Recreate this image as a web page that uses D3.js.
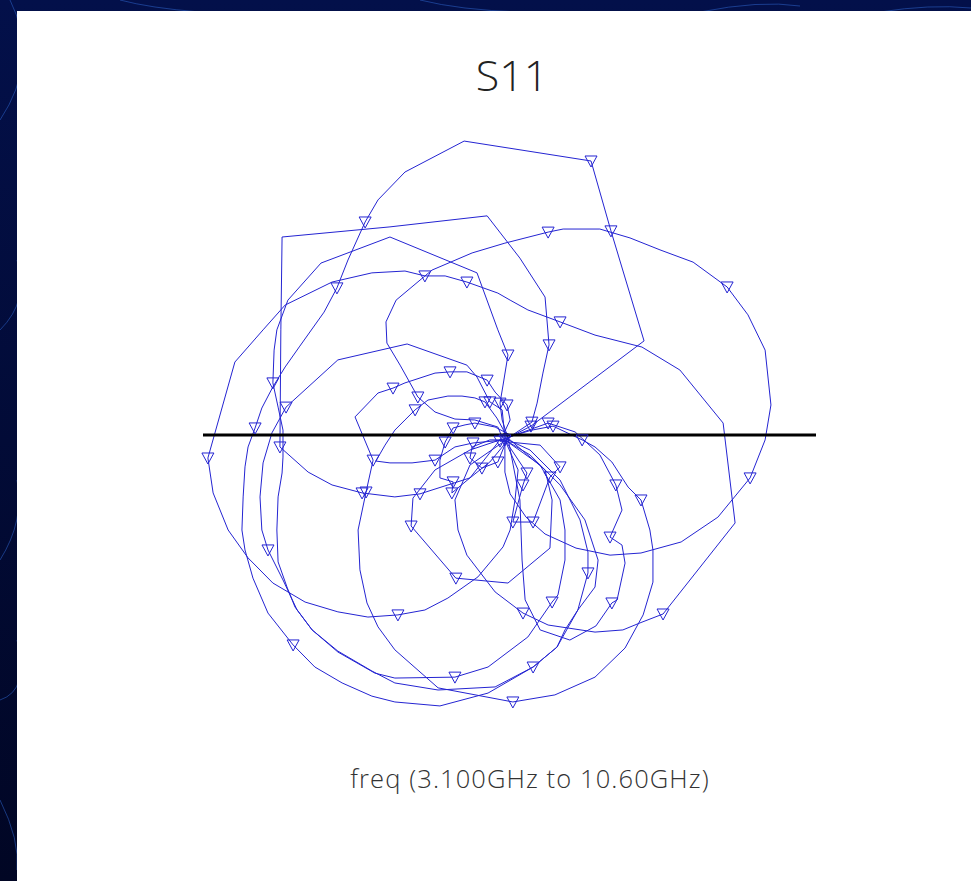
<!DOCTYPE html>
<html>
<head>
<meta charset="utf-8">
<script src="https://cdn.jsdelivr.net/npm/d3@7"></script>
<style>
html, body { margin: 0; padding: 0; background: #020a38; }
svg { display: block; }
</style>
</head>
<body>
<svg id="chart" width="971" height="881"></svg>
<script>
// S11 reflection coefficient, real and imaginary parts, 3.1 GHz to 10.6 GHz.
// One line per loop of the trace; each loop leaves and returns near the matched point.
const re = [
  0.008,0.070,0.439,0.331,0.266,-0.148,-0.341,-0.429,-0.471,-0.527,-0.563,-0.605,-0.684,-0.732,-0.772,-0.808,-0.830,-0.853,-0.863,-0.869,-0.873,-0.863,-0.837,-0.788,-0.706,-0.635,-0.546,-0.449,-0.374,-0.227,-0.070,0.077,0.155,0.223,0.256,0.256,0.230,0.165,0.067,
  -0.024,-0.129,-0.292,-0.374,-0.481,-0.579,-0.657,-0.749,-0.746,-0.742,-0.390,-0.073,0.034,0.116,0.129,0.109,0.090,0.073,
  -0.005,-0.024,-0.031,-0.021,-0.005,-0.038,-0.106,-0.390,-0.615,-0.723,-0.759,-0.768,-0.772,-0.755,-0.739,-0.739,-0.742,-0.755,-0.759,-0.755,-0.726,-0.700,-0.644,-0.560,-0.439,-0.374,-0.178,-0.070,0.060,0.139,0.158,0.181,0.181,0.165,0.100,
  -0.015,0.028,0.018,0.002,-0.021,-0.103,-0.201,-0.276,-0.364,-0.462,-0.560,-0.667,-0.772,-0.853,-0.918,-0.967,-0.984,-0.896,-0.804,-0.732,-0.579,-0.449,-0.341,-0.276,-0.210,-0.139,-0.038,0.002,0.060,0.165,0.279,0.432,0.556,0.697,0.736,0.501,0.426,0.370,0.279,0.126,0.044,-0.047,-0.139,-0.168,-0.178,-0.129,
  0.008,0.073,0.142,0.237,0.279,0.334,0.387,0.429,0.458,0.468,0.468,0.436,0.377,0.279,0.148,0.011,-0.233,-0.374,-0.429,-0.465,-0.488,-0.494,-0.468,-0.445,-0.504,-0.429,-0.380,-0.341,-0.243,-0.194,-0.139,-0.073,-0.047,-0.008,0.002,
  -0.024,-0.038,-0.113,-0.178,-0.243,-0.299,-0.357,-0.400,-0.403,-0.370,-0.253,-0.122,-0.015,0.126,0.175,0.295,0.393,0.491,0.599,0.710,0.778,0.834,0.853,0.834,0.785,0.680,0.560,0.429,0.328,0.217,0.116,0.054,0.002,-0.015,
  -0.015,-0.024,-0.064,-0.106,-0.139,-0.334,-0.560,-0.729,-0.775,-0.804,-0.814,-0.808,-0.788,-0.739,-0.693,-0.644,-0.560,-0.449,-0.374,-0.233,-0.047,0.077,0.155,0.181,0.223,0.279,0.289,0.246,0.165,0.067,
  -0.015,-0.119,-0.178,-0.243,-0.318,-0.390,-0.436,-0.406,-0.374,-0.341,-0.308,-0.266,-0.201,-0.155,-0.113,-0.080,-0.041,
  -0.005,0.116,0.139,0.132,-0.005,-0.175,-0.321,-0.315,-0.243,-0.129,
  0.008,-0.047,-0.113,-0.145,-0.184,-0.210,-0.227,-0.227,-0.184,-0.188,-0.129,-0.064,-0.021,
  -0.005,-0.038,-0.090,-0.129,-0.122,-0.064,
  -0.015,0.057,0.044,0.011,0.077,0.132,0.165,0.100,
  -0.031,0.018,0.126,0.214,0.295,0.347,0.367,0.328,0.367,0.377,0.351,0.334,0.282,0.197,0.100,0.051,0.041,0.034,
  -0.005
];
const im = [
  -0.003,0.029,0.307,0.666,0.894,0.959,0.858,0.767,0.695,0.571,0.480,0.401,0.290,0.222,0.157,0.088,0.023,-0.039,-0.104,-0.202,-0.310,-0.375,-0.467,-0.581,-0.685,-0.757,-0.809,-0.852,-0.871,-0.884,-0.842,-0.757,-0.692,-0.571,-0.450,-0.382,-0.277,-0.147,-0.049,
  -0.007,-0.140,-0.192,-0.202,-0.189,-0.163,-0.121,-0.039,0.343,0.646,0.679,0.715,0.577,0.450,0.294,0.202,0.104,0.042,
  -0.010,0.049,0.104,0.163,0.261,0.343,0.529,0.646,0.561,0.440,0.343,0.277,0.170,0.091,0.016,-0.072,-0.124,-0.202,-0.310,-0.414,-0.496,-0.561,-0.636,-0.708,-0.777,-0.793,-0.790,-0.757,-0.659,-0.545,-0.522,-0.408,-0.310,-0.212,-0.098,
  -0.016,-0.114,-0.212,-0.310,-0.365,-0.463,-0.532,-0.571,-0.587,-0.594,-0.577,-0.545,-0.483,-0.401,-0.310,-0.189,-0.075,0.238,0.343,0.424,0.499,0.529,0.535,0.519,0.519,0.499,0.463,0.440,0.408,0.369,0.326,0.287,0.212,0.039,-0.287,-0.584,-0.613,-0.636,-0.643,-0.620,-0.581,-0.512,-0.392,-0.310,-0.212,-0.098,
  -0.003,0.016,0.029,-0.016,-0.039,-0.088,-0.170,-0.212,-0.310,-0.375,-0.480,-0.587,-0.695,-0.790,-0.848,-0.871,-0.825,-0.701,-0.626,-0.548,-0.440,-0.310,-0.186,-0.082,0.059,0.137,0.153,0.170,0.202,0.206,0.206,0.179,0.140,0.098,0.049,
  -0.007,0.026,0.049,0.052,0.075,0.124,0.228,0.300,0.369,0.440,0.538,0.594,0.626,0.662,0.672,0.672,0.643,0.604,0.564,0.483,0.392,0.277,0.098,-0.016,-0.140,-0.268,-0.349,-0.385,-0.392,-0.369,-0.323,-0.268,-0.192,-0.121,
  -0.007,0.082,0.108,0.189,0.228,0.297,0.245,0.091,0.007,-0.091,-0.202,-0.310,-0.375,-0.473,-0.571,-0.636,-0.705,-0.770,-0.809,-0.832,-0.822,-0.757,-0.692,-0.636,-0.571,-0.496,-0.408,-0.277,-0.163,-0.065,
  -0.016,-0.026,-0.039,-0.082,-0.091,-0.091,-0.085,-0.033,0.016,0.049,0.082,0.114,0.127,0.127,0.121,0.108,0.055,
  -0.010,-0.114,-0.212,-0.369,-0.483,-0.467,-0.297,-0.206,-0.114,-0.049,
  -0.003,0.026,0.039,0.033,0.023,-0.023,-0.082,-0.140,-0.153,-0.189,-0.140,-0.088,-0.036,
  -0.007,-0.088,-0.108,-0.075,-0.039,-0.016,
  -0.016,-0.124,-0.163,-0.284,-0.284,-0.137,-0.104,-0.033,
  -0.020,0.000,0.039,0.010,-0.065,-0.163,-0.245,-0.333,-0.359,-0.418,-0.538,-0.548,-0.623,-0.669,-0.636,-0.538,-0.408,-0.212,
  -0.010
];
// 1 where a frequency marker is shown on the trace
const mk = [
  0,1,0,1,1,0,0,0,1,0,1,0,0,0,0,0,1,0,0,0,0,0,0,0,1,0,0,0,0,0,0,0,0,0,1,0,0,0,0,
  0,0,1,0,1,0,0,1,0,0,0,0,0,0,1,0,0,1,
  0,0,1,0,1,0,0,0,0,0,0,0,1,0,0,0,0,0,0,0,0,0,0,0,0,0,1,0,0,1,0,0,0,0,0,
  0,0,0,0,0,0,0,0,1,0,0,0,0,0,0,0,1,0,0,0,0,0,0,1,0,1,0,0,0,1,0,0,0,0,0,1,0,0,0,0,1,0,0,0,0,0,
  0,0,1,1,0,0,0,1,0,0,0,0,0,0,0,1,0,0,0,0,0,0,1,1,0,0,1,0,0,1,0,1,0,1,0,
  0,0,0,0,0,1,0,0,0,0,0,0,0,1,0,0,0,0,0,1,0,0,0,0,1,0,0,0,0,0,0,0,0,0,
  0,0,1,0,0,0,0,1,0,0,0,0,1,0,0,0,0,0,0,0,0,1,0,0,0,0,0,0,0,0,
  0,1,0,1,0,0,0,0,0,0,1,0,0,0,0,1,0,
  0,0,0,0,0,1,1,0,0,0,
  0,0,1,0,1,1,0,0,1,1,0,0,0,
  0,1,1,1,0,0,
  1,1,1,1,1,1,1,0,
  1,0,1,0,0,1,0,1,0,0,0,1,0,0,0,0,0,0,
  0
];
const titleText = "S11";
const sweepLabel = "freq (3.100GHz to 10.60GHz)";

const W = 971, H = 881;
const svg = d3.select("#chart");

// page backdrop
const defs = svg.append("defs");
const g = defs.append("linearGradient").attr("id", "bg").attr("x1", 0).attr("y1", 0).attr("x2", 0).attr("y2", 1);
g.append("stop").attr("offset", "0%").attr("stop-color", "#03104a");
g.append("stop").attr("offset", "100%").attr("stop-color", "#010624");
svg.append("rect").attr("width", W).attr("height", H).attr("fill", "url(#bg)");
const swirl = [
  "M0,120 Q40,60 10,0", "M0,330 Q30,300 17,260", "M0,560 Q25,520 17,480",
  "M0,700 Q30,690 17,640", "M0,800 Q20,840 17,870", "M120,0 Q150,8 200,12",
  "M420,0 Q460,10 520,12", "M700,12 Q760,0 800,6", "M880,12 Q930,4 971,8"
];
svg.append("g").selectAll("path").data(swirl).join("path")
  .attr("d", d => d).attr("fill", "none").attr("stroke", "#2d63c8").attr("stroke-opacity", 0.55).attr("stroke-width", 1);

// white plotting sheet
svg.append("rect").attr("x", 17).attr("y", 11).attr("width", W - 17).attr("height", H - 11).attr("fill", "#ffffff");

// reflection plane: unit circle spans x 203..816, centre row at y 435
const x = d3.scaleLinear().domain([-1, 1]).range([203, 816]);
const y = d3.scaleLinear().domain([-1, 1]).range([741.5, 128.5]);

const pts = re.map((r, i) => ({ re: r, im: im[i], m: mk[i] }));

// trace
svg.append("path")
  .datum(pts)
  .attr("fill", "none")
  .attr("stroke", "#2424d2")
  .attr("stroke-width", 1)
  .attr("stroke-linejoin", "round")
  .attr("d", d3.line().x(d => x(d.re)).y(d => y(d.im)));

// real axis
svg.append("line")
  .attr("x1", x(-1)).attr("x2", x(1))
  .attr("y1", y(0)).attr("y2", y(0))
  .attr("stroke", "#000").attr("stroke-width", 3);

// frequency markers: open down-pointing triangles
svg.append("g").selectAll("path").data(pts.filter(d => d.m === 1)).join("path")
  .attr("transform", d => `translate(${x(d.re)},${y(d.im)})`)
  .attr("d", "M-6,-5L6,-5L0,6Z")
  .attr("fill", "none")
  .attr("stroke", "#2424d2")
  .attr("stroke-width", 1);

// title and sweep caption
svg.append("text").attr("x", 512).attr("y", 91).attr("text-anchor", "middle")
  .attr("font-family", "Open Sans, Lato, sans-serif").attr("font-weight", 300)
  .attr("font-size", 43).attr("fill", "#222").text(titleText);
svg.append("text").attr("x", 530).attr("y", 788).attr("text-anchor", "middle")
  .attr("font-family", "Open Sans, Lato, sans-serif").attr("font-weight", 300)
  .attr("font-size", 25.5).attr("letter-spacing", 1.1).attr("fill", "#333").text(sweepLabel);
</script>
</body>
</html>
